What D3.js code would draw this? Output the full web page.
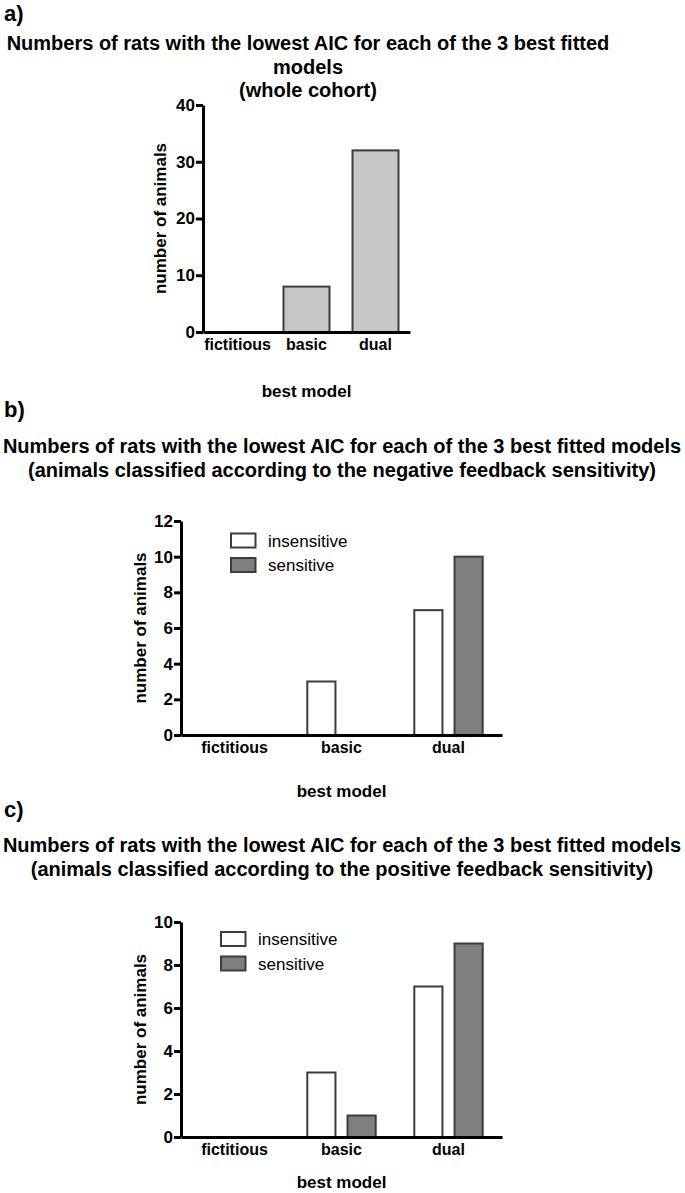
<!DOCTYPE html>
<html>
<head>
<meta charset="utf-8">
<script src="https://cdn.jsdelivr.net/npm/d3@7"></script>
<style>
  html, body { margin: 0; padding: 0; background: #fff; }
  svg text { font-family: "Liberation Sans", Arial, Helvetica, sans-serif; fill: #000; }
  .axis .domain { stroke: #000; stroke-width: 3; }
  .axis .tick line { stroke: #000; stroke-width: 3; }
  .axis .tick text { font-size: 17px; font-weight: bold; }
  .bar { stroke: #3c3c3c; stroke-width: 2; }
</style>
</head>
<body>
<svg id="chart" width="685" height="1193"></svg>
<script>
// data
const categories = ["fictitious", "basic", "dual"];
const wholeCohort = [0, 8, 32];
const groups = ["insensitive", "sensitive"];
const negInsensitive = [0, 3, 7];
const negSensitive = [0, 0, 10];
const posInsensitive = [0, 3, 7];
const posSensitive = [0, 1, 9];
const ticksA = [0, 10, 20, 30, 40];
const ticksB = [0, 2, 4, 6, 8, 10, 12];
const ticksC = [0, 2, 4, 6, 8, 10];

const FILL = { single: "#c6c6c6", insensitive: "#ffffff", sensitive: "#7f7f7f" };
const svg = d3.select("#chart");

function titleBlock(letter, ly, lines, cx, y0, dy) {
  svg.append("text").attr("x", 4).attr("y", ly).style("font-size", "22px").style("font-weight", "bold").text(letter);
  lines.forEach((t, i) => svg.append("text").attr("x", cx).attr("y", y0 + i * dy).attr("text-anchor", "middle")
    .style("font-size", "20px").style("font-weight", "bold").text(t));
}

function axes(g, x, y, ticks, p) {
  g.append("g").attr("class", "axis").attr("transform", `translate(0,${p.y0})`)
    .call(d3.axisBottom(x).tickSize(0).tickSizeOuter(0).tickPadding(7))
    .call(s => s.selectAll(".tick text").style("font-size", "16px"));
  g.append("g").attr("class", "axis").attr("transform", `translate(${p.x0},0)`)
    .call(d3.axisLeft(y).tickValues(ticks).tickSize(7).tickSizeOuter(0).tickPadding(1).tickFormat(d3.format("d")));
  g.append("text").attr("transform", `translate(${p.ylx},${(p.y0 + p.y1) / 2}) rotate(-90)`).attr("text-anchor", "middle")
    .style("font-size", "17px").style("font-weight", "bold").text("number of animals");
  g.append("text").attr("x", (p.x0 + p.x1) / 2).attr("y", p.xly).attr("text-anchor", "middle")
    .style("font-size", "17px").style("font-weight", "bold").text("best model");
}

// a) whole cohort
(function () {
  const p = { x0: 203, x1: 410, y0: 332, y1: 105, ylx: 166, xly: 397 };
  titleBlock("a)", 21, ["Numbers of rats with the lowest AIC for each of the 3 best fitted", "models", "(whole cohort)"], 308, 50, 23.5);
  const g = svg.append("g");
  const x = d3.scaleBand().domain(categories).range([p.x0, p.x1]).paddingInner(1 / 3).paddingOuter(1 / 6);
  const y = d3.scaleLinear().domain([0, 40]).range([p.y0, p.y1]);
  const rows = categories.map((c, i) => ({ c, v: wholeCohort[i] })).filter(d => d.v > 0);
  g.selectAll("rect.bar").data(rows).join("rect").attr("class", "bar")
    .attr("x", d => x(d.c)).attr("width", x.bandwidth())
    .attr("y", d => y(d.v)).attr("height", d => y(0) - y(d.v)).attr("fill", FILL.single);
  axes(g, x, y, ticksA, p);
})();

function grouped(p, ins, sen, yMax, ticks, leg) {
  const g = svg.append("g");
  const x0 = d3.scaleBand().domain(categories).range([p.x0, p.x1]);
  const x1 = d3.scaleBand().domain(groups).range([0, x0.bandwidth()]).paddingInner(0.3).paddingOuter(0.48);
  const y = d3.scaleLinear().domain([0, yMax]).range([p.y0, p.y1]);
  const rows = [];
  categories.forEach((c, i) => {
    rows.push({ c, k: "insensitive", v: ins[i] });
    rows.push({ c, k: "sensitive", v: sen[i] });
  });
  g.selectAll("rect.bar").data(rows.filter(d => d.v > 0)).join("rect").attr("class", "bar")
    .attr("x", d => x0(d.c) + x1(d.k)).attr("width", x1.bandwidth())
    .attr("y", d => y(d.v)).attr("height", d => y(0) - y(d.v)).attr("fill", d => FILL[d.k]);
  axes(g, x0, y, ticks, p);
  const lg = g.append("g").attr("transform", `translate(${leg.x},${leg.y})`);
  groups.forEach((k, i) => {
    lg.append("rect").attr("class", "bar").attr("x", 0).attr("y", i * 24.5).attr("width", 24.5).attr("height", 14).attr("fill", FILL[k]);
    lg.append("text").attr("x", 37).attr("y", i * 24.5 + 13).style("font-size", "17px").text(k);
  });
}

// b) negative feedback
titleBlock("b)", 417, ["Numbers of rats with the lowest AIC for each of the 3 best fitted models",
  "(animals classified according to the negative feedback sensitivity)"], 342, 453, 23.5);
grouped({ x0: 181, x1: 502, y0: 735, y1: 521, ylx: 146, xly: 797 }, negInsensitive, negSensitive, 12, ticksB, { x: 231, y: 533.5 });

// c) positive feedback
titleBlock("c)", 817, ["Numbers of rats with the lowest AIC for each of the 3 best fitted models",
  "(animals classified according to the positive feedback sensitivity)"], 342, 852, 23.5);
grouped({ x0: 181, x1: 502, y0: 1137, y1: 922, ylx: 146, xly: 1188 }, posInsensitive, posSensitive, 10, ticksC, { x: 221, y: 932 });
</script>
</body>
</html>
